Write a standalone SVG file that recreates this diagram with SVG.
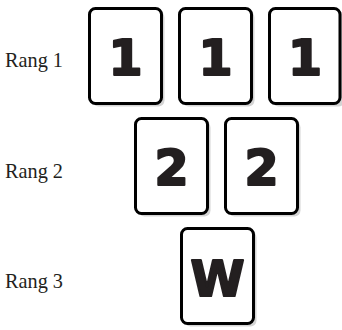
<svg xmlns="http://www.w3.org/2000/svg" width="342" height="330" viewBox="0 0 342 330">
<defs>
<style>
.lbl{font-family:"Liberation Serif","Times New Roman",serif;font-size:22px;fill:#231f20}
.card{fill:#fff;stroke:#000;stroke-width:3}
.shadow{fill:#d4d4d4}
.num{font-family:"DejaVu Sans","Liberation Sans",sans-serif;font-weight:bold;font-size:49px;fill:#231f20;stroke:#231f20;stroke-width:2.2;stroke-linejoin:round;text-anchor:middle}
</style>
</defs>
<rect width="342" height="330" fill="#fff"/>
<text class="lbl" x="5" y="67" textLength="58" lengthAdjust="spacingAndGlyphs">Rang 1</text>
<text class="lbl" x="5" y="178" textLength="58" lengthAdjust="spacingAndGlyphs">Rang 2</text>
<text class="lbl" x="5" y="288" textLength="58" lengthAdjust="spacingAndGlyphs">Rang 3</text>
<g id="card-1a">
<rect class="shadow" x="92.5" y="11.5" width="72" height="95" rx="6"/>
<rect class="card" x="89.5" y="8.5" width="72" height="95" rx="6"/>
<text class="num" x="125.5" y="75">1</text>
</g>
<g id="card-1b">
<rect class="shadow" x="182.5" y="11.5" width="72" height="95" rx="6"/>
<rect class="card" x="179.5" y="8.5" width="72" height="95" rx="6"/>
<text class="num" x="215.5" y="75">1</text>
</g>
<g id="card-1c">
<rect class="shadow" x="272.5" y="11.5" width="72" height="95" rx="6"/>
<rect class="card" x="269.5" y="8.5" width="70.5" height="95" rx="6"/>
<text class="num" x="305" y="75">1</text>
</g>
<g id="card-2a">
<rect class="shadow" x="138.5" y="121.5" width="72" height="95" rx="6"/>
<rect class="card" x="135.5" y="118.5" width="72" height="95" rx="6"/>
<text class="num" x="171.5" y="185">2</text>
</g>
<g id="card-2b">
<rect class="shadow" x="228.5" y="121.5" width="72" height="95" rx="6"/>
<rect class="card" x="225.5" y="118.5" width="72" height="95" rx="6"/>
<text class="num" x="261.5" y="185">2</text>
</g>
<g id="card-3">
<rect class="shadow" x="184.5" y="231.5" width="72" height="95" rx="6"/>
<rect class="card" x="181.5" y="228.5" width="72" height="95" rx="6"/>
<text class="num" x="217.5" y="296">W</text>
</g>
</svg>
